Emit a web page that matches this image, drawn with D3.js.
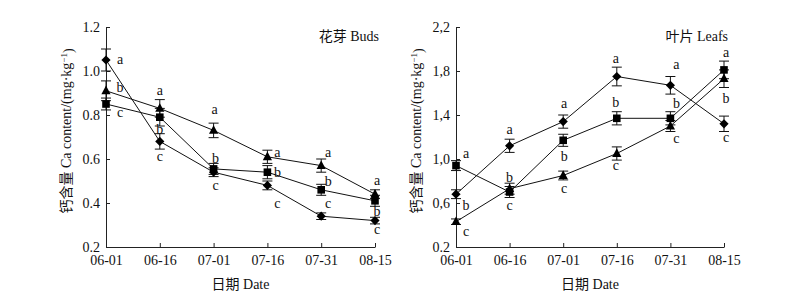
<!DOCTYPE html>
<html>
<head>
<meta charset="utf-8">
<script src="https://cdn.jsdelivr.net/npm/d3@7"></script>
<style>
  body { margin: 0; background: #fff; }
  svg text { font-family: "Times New Roman", "Liberation Serif", "DejaVu Serif", "Noto Sans CJK SC", serif; fill: #111; }
</style>
</head>
<body>
<svg id="chart" width="785" height="306"></svg>
<script>
// dates on the x axis
var dates = ["06-01", "06-16", "07-01", "07-16", "07-31", "08-15"];

// 花芽 Buds
var budsDiamond = [1.05, 0.68, 0.54, 0.48, 0.34, 0.32];
var budsSquare = [0.85, 0.79, 0.555, 0.54, 0.46, 0.41];
var budsTriangle = [0.91, 0.83, 0.73, 0.61, 0.57, 0.44];
var budsDiamondErr = [0.05, 0.035, 0.02, 0.02, 0.015, 0.015];
var budsSquareErr = [0.027, 0.04, 0.025, 0.03, 0.025, 0.025];
var budsTriangleErr = [0.045, 0.04, 0.033, 0.03, 0.03, 0.02];
var budsDiamondSig = ["a", "c", "c", "c", "c", "c"];
var budsSquareSig = ["c", "b", "b", "b", "b", "b"];
var budsTriangleSig = ["b", "a", "a", "a", "a", "a"];
var budsTicks = [0.2, 0.4, 0.6, 0.8, 1.0, 1.2];
var budsTickLabels = ["0.2", "0.4", "0.6", "0.8", "1.0", "1.2"];

// 叶片 Leafs
var leafDiamond = [0.68, 1.12, 1.34, 1.75, 1.67, 1.32];
var leafSquare = [0.94, 0.70, 1.17, 1.37, 1.37, 1.81];
var leafTriangle = [0.43, 0.73, 0.85, 1.05, 1.30, 1.73];
var leafDiamondErr = [0.04, 0.06, 0.06, 0.085, 0.08, 0.07];
var leafSquareErr = [0.045, 0.05, 0.055, 0.06, 0.06, 0.08];
var leafTriangleErr = [0.025, 0.05, 0.04, 0.06, 0.05, 0.08];
var leafDiamondSig = ["b", "a", "a", "a", "a", "c"];
var leafSquareSig = ["a", "c", "b", "b", "b", "a"];
var leafTriangleSig = ["c", "b", "c", "c", "c", "b"];
var leafTicks = [0.2, 0.6, 1.0, 1.4, 1.8, 2.2];
var leafTickLabels = ["0.2", "0,6", "1,0", "1,4", "1,8", "2,2"];

//////////////////////////////////////////////////////////////////////////////
// where the significance letters sit relative to their marker (pixels)

var budsLetterPos = {
  diamond: [[14, 4], [0, 20], [2, 18], [10, 23], [7, -8], [2, 13]],
  square: [[14, 13], [0, 17], [2, -6], [10, 5], [7, -4], [2, 15]],
  triangle: [[14, 1], [0, -13], [1, -16], [10, 0], [7, -9], [2, -9]]
};
var leafLetterPos = {
  diamond: [[10, 16], [0, -12], [1, -14], [-1, -14], [6, -16], [2, 18]],
  square: [[10, -8], [0, 18], [1, 21], [-1, -11], [6, -10], [2, -13]],
  triangle: [[10, 14], [0, -7], [1, 17], [-1, 16], [6, 17], [2, 24]]
};

var markerPaths = {
  diamond: "M0,-4.6L4.6,0L0,4.6L-4.6,0Z",
  square: "M-3.8,-3.8H3.8V3.8H-3.8Z",
  triangle: "M0,-5.2L4.6,3.4H-4.6Z"
};

//////////////////////////////////////////////////////////////////////////////

function drawPanel(svg, p) {
  var xScale = d3.scalePoint()
    .domain(dates)
    .range([p.left, p.right]);

  var yScale = d3.scaleLinear()
    .domain([p.ticks[0], p.ticks[p.ticks.length - 1]])
    .range([247, 27]);

  // x axis
  svg.append("g")
    .attr("transform", "translate(0,247)")
    .call(d3.axisBottom(xScale).tickSizeInner(-4).tickSizeOuter(0).tickPadding(8.5))
    .call(function(g) {
      g.attr("font-family", null);
      g.selectAll("text").style("font-size", "14px").attr("fill", "#111");
      g.selectAll("line, path").attr("stroke", "#222");
    });

  // y axis
  svg.append("g")
    .attr("transform", "translate(" + p.left + ",0)")
    .call(d3.axisLeft(yScale).tickValues(p.ticks).tickSizeInner(-4).tickSizeOuter(0).tickPadding(6)
      .tickFormat(function(d, i) { return p.tickLabels[i]; }))
    .call(function(g) {
      g.attr("font-family", null);
      g.selectAll("text").style("font-size", "14px").attr("fill", "#111");
      g.selectAll("line, path").attr("stroke", "#222");
    });

  var line = d3.line()
    .x(function(d, i) { return xScale(dates[i]); })
    .y(function(d) { return yScale(d); });

  p.series.forEach(function(s) {
    svg.append("path")
      .attr("d", line(s.values))
      .attr("fill", "none")
      .attr("stroke", "#111")
      .attr("stroke-width", 1);
  });

  // error bars
  p.series.forEach(function(s) {
    var g = svg.append("g").attr("stroke", "#111").attr("stroke-width", 1);
    s.values.forEach(function(v, i) {
      var x = xScale(dates[i]);
      var y0 = yScale(v - s.err[i]);
      var y1 = yScale(v + s.err[i]);
      g.append("line").attr("x1", x).attr("x2", x).attr("y1", y0).attr("y2", y1);
      g.append("line").attr("x1", x - 5).attr("x2", x + 5).attr("y1", y0).attr("y2", y0);
      g.append("line").attr("x1", x - 5).attr("x2", x + 5).attr("y1", y1).attr("y2", y1);
    });
  });

  // markers
  p.series.forEach(function(s) {
    svg.selectAll(null)
      .data(s.values)
      .enter()
      .append("path")
      .attr("d", markerPaths[s.shape])
      .attr("fill", "#000")
      .attr("transform", function(d, i) {
        return "translate(" + xScale(dates[i]) + "," + yScale(d) + ")";
      });
  });

  // significance letters
  p.series.forEach(function(s) {
    var pos = p.letterPos[s.shape];
    svg.selectAll(null)
      .data(s.values)
      .enter()
      .append("text")
      .attr("x", function(d, i) { return xScale(dates[i]) + pos[i][0]; })
      .attr("y", function(d, i) { return yScale(d) + pos[i][1]; })
      .attr("fill", "#111")
      .style("font-size", "14px")
      .style("text-anchor", "middle")
      .text(function(d, i) { return s.sig[i]; });
  });

  // panel title
  svg.append("text")
    .attr("x", p.right + 4)
    .attr("y", 40.5)
    .style("text-anchor", "end")
    .style("font-size", "14px")
    .text(p.title);

  // text label for the x axis
  svg.append("text")
    .attr("x", (p.left + p.right) / 2)
    .attr("y", 289)
    .style("text-anchor", "middle")
    .style("font-size", "14px")
    .text("日期 Date");

  // text label for the y axis
  var yl = svg.append("text")
    .attr("transform", "translate(" + (p.left - 40) + ",131) rotate(-90)")
    .attr("dy", "0.35em")
    .style("text-anchor", "middle")
    .style("font-size", "14px");
  yl.append("tspan").text(p.yLabel + "/(mg·kg");
  yl.append("tspan").attr("dy", "-0.45em").style("font-size", "9px").text("−1");
  yl.append("tspan").attr("dy", "0.45em").text(")");
}

var svg = d3.select("#chart");

drawPanel(svg, {
  left: 106, right: 375,
  ticks: budsTicks, tickLabels: budsTickLabels,
  title: "花芽 Buds",
  yLabel: "钙含量 Ca content",
  letterPos: budsLetterPos,
  series: [
    { shape: "diamond", values: budsDiamond, err: budsDiamondErr, sig: budsDiamondSig },
    { shape: "square", values: budsSquare, err: budsSquareErr, sig: budsSquareSig },
    { shape: "triangle", values: budsTriangle, err: budsTriangleErr, sig: budsTriangleSig }
  ]
});

drawPanel(svg, {
  left: 456, right: 724,
  ticks: leafTicks, tickLabels: leafTickLabels,
  title: "叶片 Leafs",
  yLabel: "钙含量 Ca content",
  letterPos: leafLetterPos,
  series: [
    { shape: "diamond", values: leafDiamond, err: leafDiamondErr, sig: leafDiamondSig },
    { shape: "square", values: leafSquare, err: leafSquareErr, sig: leafSquareSig },
    { shape: "triangle", values: leafTriangle, err: leafTriangleErr, sig: leafTriangleSig }
  ]
});
</script>
</body>
</html>
